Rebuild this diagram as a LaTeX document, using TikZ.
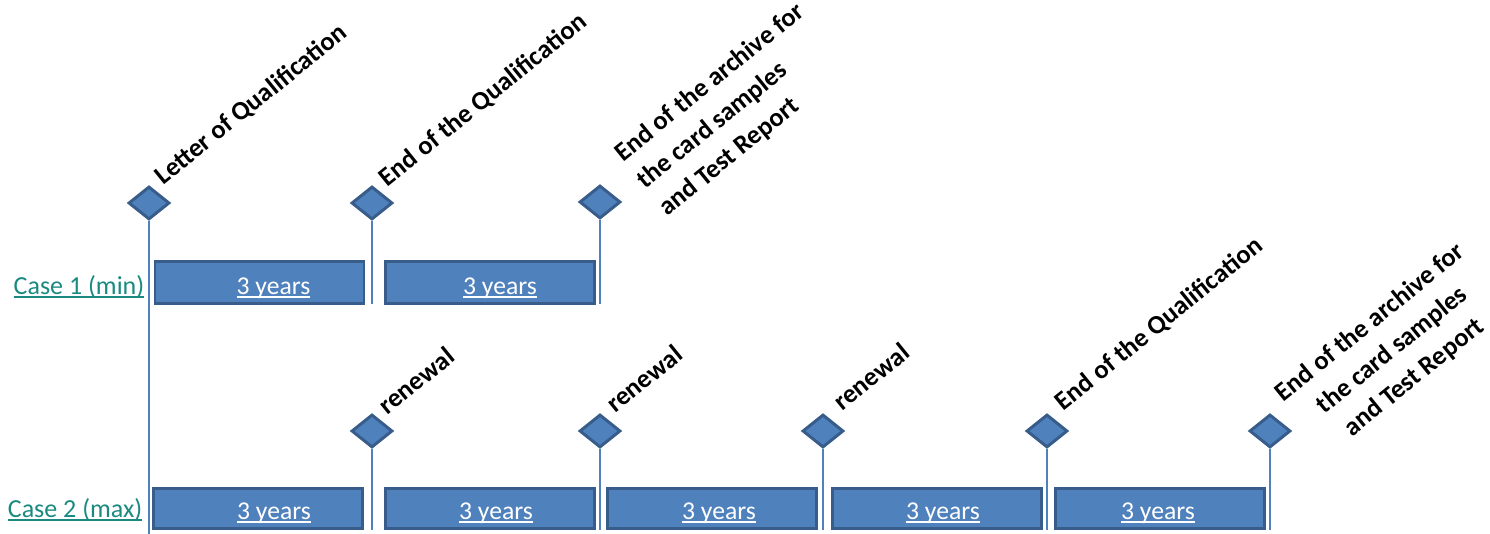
\documentclass[tikz,border=0pt]{standalone}
\usepackage{fontspec}
\setmainfont{Carlito}
\usetikzlibrary{positioning,shapes.geometric}
\definecolor{barblue}{HTML}{4F81BD}
\definecolor{baredge}{HTML}{385D8A}
\definecolor{caseteal}{HTML}{1A8A80}
\newsavebox\ulbox
\newcommand\ultext[1]{\sbox\ulbox{#1}\rlap{\usebox\ulbox}\rule[-0.75pt]{\wd\ulbox}{0.45pt}}
\tikzset{
    period/.style={draw=baredge,fill=barblue,line width=0.85pt,
      minimum width=20.9mm,minimum height=4.2mm,inner sep=0pt},
    yearlabel/.style={text=white,inner sep=0pt,anchor=base,
      font=\fontsize{7.3}{9}\selectfont},
    milestone/.style={diamond,draw=baredge,fill=barblue,line width=0.85pt,
      minimum width=4.1mm,minimum height=3.3mm,inner sep=0pt},
    tick/.style={draw=barblue,line width=0.7pt},
    eventlabel/.style={rotate=39,anchor=base west,inner sep=0pt,
      font=\fontsize{7.5}{10}\selectfont\bfseries},
    caselabel/.style={anchor=base east,inner sep=0pt,text=caseteal,
      font=\fontsize{7.4}{9}\selectfont}
}
\begin{document}
\begin{tikzpicture}[x=0.1mm,y=-0.1mm]
  \useasboundingbox (0,0) rectangle (1490,534);
  \node[period] (pa1) at (259.5,282.5) {};
  \node[period] (pa2) at (490,282.5) {};
  \node[yearlabel] at ([xshift=1.4mm,yshift=-1.25mm]pa1.center) {\ultext{3 years}};
  \node[yearlabel] at ([xshift=1mm,yshift=-1.25mm]pa2.center) {\ultext{3 years}};
  \foreach \i/\x/\d in {1/258/16,2/490/6,3/712/7,4/937/6,5/1160/-2} {
    \node[period,minimum height=4mm] (pb\i) at (\x,508.5) {};
    \node[yearlabel] at ([xshift=\d*0.1mm,yshift=-1.15mm]pb\i.center) {\ultext{3 years}};
  }
  \node[milestone] (qa) at (149,203) {};
  \node[milestone] (qb) at (372,203) {};
  \node[milestone] (qc) at (600,202) {};
  \coordinate (axisend) at (149,534);
  \coordinate (qbend) at (372,304);
  \coordinate (qcend) at (600,304);
  \draw[tick] (qa.south) -- (axisend);
  \draw[tick] (qb.south) -- (qbend);
  \draw[tick] (qc.south) -- (qcend);
  \foreach \i/\x in {1/372,2/600,3/823,4/1047,5/1270} {
    \node[milestone] (r\i) at (\x,431) {};
    \coordinate (r\i end) at (\x,530);
    \draw[tick] (r\i.south) -- (r\i end);
  }
  \node[caselabel] (case1) at (145,295) {\ultext{Case 1 (min)}};
  \node[caselabel] (case2) at (143,518) {\ultext{Case 2 (max)}};
  \node[eventlabel] (letter) at (163,186) {Letter of Qualification};
  \node[eventlabel] (endqa) at (387,188) {End of the Qualification};
  \node[eventlabel,anchor=south west,align=left] (archa) at (670,221)
    {End of the archive for\\the card samples\\and Test Report};
  \node[eventlabel] (renew1) at (387,416) {renewal};
  \node[eventlabel] (renew2) at (615,414) {renewal};
  \node[eventlabel] (renew3) at (842,412) {renewal};
  \node[eventlabel] (endqb) at (1063,412) {End of the Qualification};
  \node[eventlabel,anchor=south,align=center] (archb) at (1422,387)
    {End of the archive for\\the card samples\\and Test Report};
\end{tikzpicture}
\end{document}
